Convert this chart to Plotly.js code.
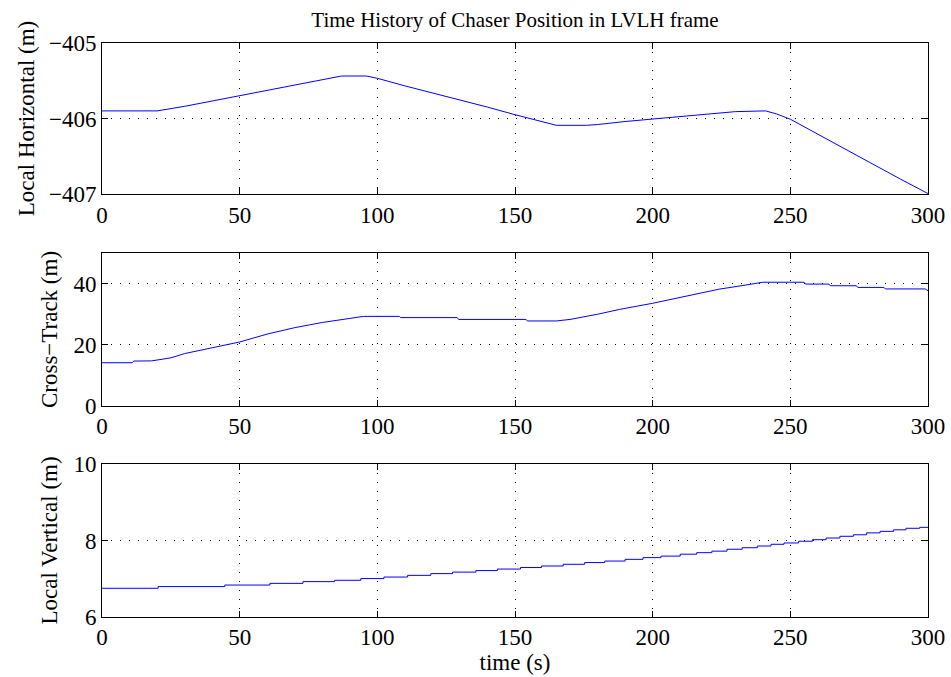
<!DOCTYPE html>
<html><head><meta charset="utf-8">
<script src="https://cdn.plot.ly/plotly-3.0.1.min.js"></script>
<style>html,body{margin:0;padding:0;background:#fff}#chart{width:951px;height:677px}</style>
</head><body><div id="chart"></div>
<script>
// Panel 1: Local Horizontal (m)
const tH = [0, 20, 30, 40, 50, 60, 70, 80, 87, 96, 100, 110, 120, 130, 140, 150, 160, 165, 176, 180, 190, 200, 210, 220, 230, 241, 245, 250, 260, 270, 280, 290, 300];
const yH = [-405.90, -405.90, -405.84, -405.77, -405.69, -405.62, -405.55, -405.48, -405.44, -405.44, -405.47, -405.57, -405.66, -405.76, -405.85, -405.95, -406.04, -406.09, -406.09, -406.08, -406.04, -406.01, -405.97, -405.94, -405.91, -405.90, -405.94, -406.01, -406.21, -406.40, -406.60, -406.80, -406.99];
// Panel 2: Cross-Track (m)
const tC = [0, 11, 11.5, 18, 25, 30, 40, 50, 60, 70, 80, 90, 95, 108, 108.5, 129, 129.5, 154, 154.5, 165, 170, 180, 188, 200, 212, 224, 236, 240, 255, 255.5, 264, 264.5, 274, 274.5, 284, 284.5, 299, 300];
const yC = [14.1, 14.1, 14.65, 14.7, 15.7, 17.1, 19.0, 20.9, 23.5, 25.6, 27.3, 28.6, 29.3, 29.3, 28.9, 28.9, 28.3, 28.3, 27.8, 27.8, 28.3, 30.0, 31.6, 33.6, 36.0, 38.2, 39.9, 40.5, 40.5, 39.9, 39.9, 39.35, 39.35, 38.8, 38.8, 38.3, 38.3, 37.7];
// Panel 3: Local Vertical (m) (zero-order-hold steps)
const tV = [0, 20.4, 44.6, 61, 73, 84.5, 94, 102.4, 111, 119.4, 127.3, 135.8, 143.6, 152, 159.6, 167.5, 175.3, 182.6, 190, 196.5, 203, 210, 216, 221.5, 227, 232.5, 238, 243, 247.7, 253, 258, 263, 268, 272.9, 277.7, 282.6, 287.5, 292, 297, 300];
const yV = [6.745, 6.79, 6.83, 6.875, 6.92, 6.955, 7.0, 7.04, 7.085, 7.13, 7.17, 7.21, 7.25, 7.29, 7.33, 7.375, 7.42, 7.46, 7.505, 7.55, 7.59, 7.64, 7.68, 7.72, 7.77, 7.81, 7.855, 7.9, 7.935, 7.98, 8.02, 8.065, 8.11, 8.15, 8.2, 8.24, 8.28, 8.32, 8.345, 8.345];

const xTicks = [0, 50, 100, 150, 200, 250, 300];
const yTicksH = [-407, -406, -405];
const yTicksC = [0, 20, 40];
const yTicksV = [6, 8, 10];

const FONT = 'Liberation Serif, Times New Roman, serif';
const FS = 23;
const lineStyle = {color: '#0000ff', width: 1};

const traces = [
  {x: tH, y: yH, type: 'scatter', mode: 'lines', line: lineStyle, xaxis: 'x', yaxis: 'y', hoverinfo: 'skip'},
  {x: tC, y: yC, type: 'scatter', mode: 'lines', line: lineStyle, xaxis: 'x2', yaxis: 'y2', hoverinfo: 'skip'},
  {x: tV, y: yV, type: 'scatter', mode: 'lines', line: Object.assign({shape: 'hv'}, lineStyle), xaxis: 'x3', yaxis: 'y3', hoverinfo: 'skip'}
];

function xa(anchor, title) {
  const a = {
    anchor: anchor, domain: [0, 1], range: [0, 300], tickvals: xTicks, ticktext: xTicks.map(String),
    showline: true, linecolor: '#000', linewidth: 1, mirror: 'ticks', ticks: 'inside', ticklen: 6, tickcolor: '#000',
    showgrid: true, gridcolor: '#000', gridwidth: 1, griddash: '1px,8px', zeroline: false,
    tickfont: {family: FONT, size: FS, color: '#000'}, automargin: false
  };
  if (title) a.title = {text: title, font: {family: FONT, size: FS, color: '#000'}, standoff: 3};
  return a;
}
function ya(anchor, dom, range, ticks, title, so) {
  return {
    anchor: anchor, domain: dom, range: range, tickvals: ticks,
    showline: true, linecolor: '#000', linewidth: 1, mirror: 'ticks', ticks: 'inside', ticklen: 6, tickcolor: '#000',
    showgrid: true, gridcolor: '#000', gridwidth: 1, griddash: '1px,8px', zeroline: false,
    tickfont: {family: FONT, size: FS, color: '#000'}, automargin: false,
    title: {text: title, font: {family: FONT, size: FS, color: '#000'}, standoff: so}
  };
}

const layout = {
  width: 951, height: 677,
  margin: {l: 102, r: 23, t: 0, b: 0},
  paper_bgcolor: '#fff', plot_bgcolor: '#fff',
  showlegend: false,
  title: {text: 'Time History of Chaser Position in LVLH frame', font: {family: FONT, size: 21, color: '#000'},
          x: 0.5, xref: 'paper', y: 0.971, yref: 'container', yanchor: 'middle'},
  xaxis: xa('y'),
  xaxis2: xa('y2'),
  xaxis3: xa('y3', 'time (s)'),
  yaxis: ya('x', [0.713, 0.937], [-407, -405], yTicksH, 'Local Horizontal (m)', 7),
  yaxis2: ya('x2', [0.4007, 0.6259], [0, 50], yTicksC, 'Cross\u2212Track (m)', 9),
  yaxis3: ya('x3', [0.0891, 0.3142], [6, 10], yTicksV, 'Local Vertical (m)', 9)
};

Plotly.newPlot('chart', traces, layout, {staticPlot: true, displayModeBar: false});
</script></body></html>
